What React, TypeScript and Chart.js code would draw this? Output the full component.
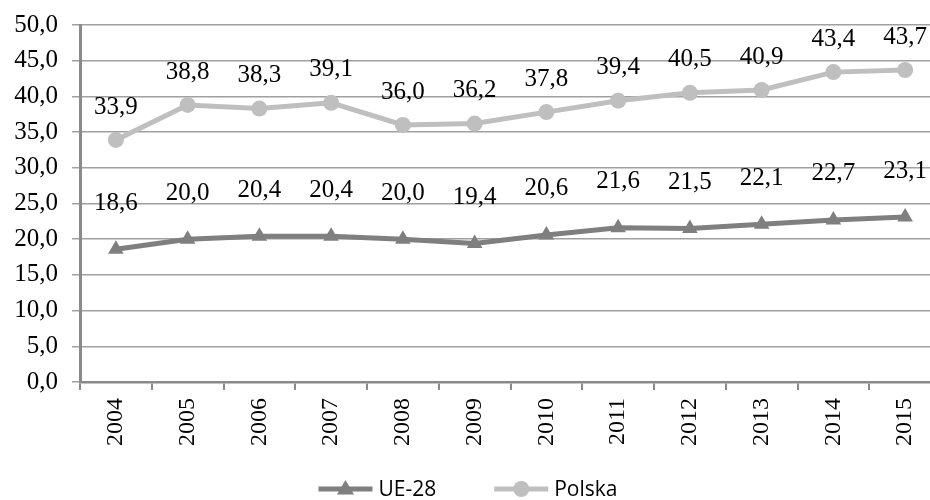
import React, { useEffect, useRef } from "react";
import { Chart, registerables } from "chart.js";

Chart.register(...registerables);

const years = ["2004", "2005", "2006", "2007", "2008", "2009", "2010", "2011", "2012", "2013", "2014", "2015"];
const ue28 = [18.6, 20.0, 20.4, 20.4, 20.0, 19.4, 20.6, 21.6, 21.5, 22.1, 22.7, 23.1];
const polska = [33.9, 38.8, 38.3, 39.1, 36.0, 36.2, 37.8, 39.4, 40.5, 40.9, 43.4, 43.7];
const seriesNames = ["UE-28", "Polska"];

const UE_COLOR = "#7f7f7f";
const PL_COLOR = "#bfbfbf";
const GRID = "#a0a0a0";
const AXIS = "#8a8a8a";
const SERIF = "'Liberation Serif', 'Times New Roman', serif";
const SANS = "'Open Sans', 'Noto Sans', sans-serif";

const fmt = (v: number) => v.toFixed(1).replace(".", ",");

const labelPlugin = {
  id: "valueLabels",
  afterDatasetsDraw(chart: any) {
    const ctx = chart.ctx;
    ctx.save();
    ctx.font = `25px ${SERIF}`;
    ctx.fillStyle = "#000";
    ctx.textAlign = "center";
    ctx.textBaseline = "middle";
    chart.data.datasets.forEach((ds: any, di: number) => {
      const meta = chart.getDatasetMeta(di);
      const lift = ds.labelLift || 35;
      meta.data.forEach((pt: any, i: number) => {
        ctx.fillText(fmt(ds.data[i]), pt.x, pt.y - lift);
      });
    });
    ctx.restore();
  },
};

const legendPlugin = {
  id: "customLegend",
  afterDraw(chart: any) {
    const ctx = chart.ctx;
    ctx.save();
    ctx.font = `21px ${SANS}`;
    const lineW = 54;
    const gapText = 6;
    const gapItem = 58;
    const items = chart.data.datasets.map((ds: any) => ({
      ds,
      tw: ctx.measureText(ds.label).width,
    }));
    const total = items.reduce((s: number, it: any) => s + lineW + gapText + it.tw, 0) + gapItem * (items.length - 1);
    let x = 468 - total / 2;
    const y = 489;
    items.forEach((it: any) => {
      const ds = it.ds;
      ctx.strokeStyle = ds.borderColor;
      ctx.lineWidth = ds.borderWidth;
      ctx.beginPath();
      ctx.moveTo(x, y);
      ctx.lineTo(x + lineW, y);
      ctx.stroke();
      ctx.fillStyle = ds.borderColor;
      const cx = x + lineW / 2;
      if (ds.pointStyle === "triangle") {
        const r = ds.pointRadius;
        ctx.beginPath();
        ctx.moveTo(cx, y - r);
        ctx.lineTo(cx + r * 0.95, y + r * 0.6);
        ctx.lineTo(cx - r * 0.95, y + r * 0.6);
        ctx.closePath();
        ctx.fill();
      } else {
        ctx.beginPath();
        ctx.arc(cx, y, ds.pointRadius, 0, Math.PI * 2);
        ctx.fill();
      }
      ctx.fillStyle = "#000";
      ctx.textAlign = "left";
      ctx.textBaseline = "middle";
      ctx.fillText(ds.label, x + lineW + gapText, y + 1);
      x += lineW + gapText + it.tw + gapItem;
    });
    ctx.restore();
  },
};

export default function App() {
  const ref = useRef<HTMLCanvasElement>(null);
  useEffect(() => {
    if (!ref.current) return;
    const chart = new Chart(ref.current, {
      type: "line",
      data: {
        labels: years,
        datasets: [
          {
            label: seriesNames[0],
            data: ue28,
            borderColor: UE_COLOR,
            backgroundColor: UE_COLOR,
            borderWidth: 5,
            pointStyle: "triangle",
            pointRadius: 9,
            pointBorderWidth: 0,
            tension: 0,
            labelLift: 46,
          } as any,
          {
            label: seriesNames[1],
            data: polska,
            borderColor: PL_COLOR,
            backgroundColor: PL_COLOR,
            borderWidth: 5,
            pointStyle: "circle",
            pointRadius: 8,
            pointBorderWidth: 0,
            tension: 0,
            labelLift: 33,
          } as any,
        ],
      },
      options: {
        animation: false,
        responsive: false,
        devicePixelRatio: 1,
        layout: { padding: { top: 25, bottom: 40, left: 0, right: 0 } },
        plugins: { legend: { display: false }, tooltip: { enabled: false } },
        scales: {
          x: {
            offset: true,
            grid: {
              offset: true,
              drawOnChartArea: false,
              drawTicks: true,
              tickLength: 8,
              color: AXIS,
              lineWidth: 2,
            },
            border: { color: AXIS, width: 2.5 },
            ticks: {
              color: "#000",
              font: { family: SERIF, size: 24 },
              minRotation: 90,
              maxRotation: 90,
              padding: 8,
            },
            afterFit(scale: any) {
              scale.height = 78;
            },
          },
          y: {
            min: 0,
            max: 50,
            ticks: {
              stepSize: 5,
              color: "#000",
              font: { family: SERIF, size: 25, lineHeight: 1 },
              padding: 14,
              callback: (v: any) => fmt(Number(v)),
            },
            grid: { color: GRID, lineWidth: 1.5, tickLength: 8 },
            border: { color: AXIS, width: 3 },
            afterFit(scale: any) {
              scale.width = 80;
              scale.paddingTop = 0;
              scale.paddingBottom = 0;
            },
          },
        },
      },
      plugins: [labelPlugin, legendPlugin],
    });
    return () => chart.destroy();
  }, []);
  return (
    <div style={{ position: "fixed", left: 0, top: 0, width: 930, height: 500, overflow: "hidden", background: "#fff" }}>
      <canvas ref={ref} width={950} height={500} style={{ display: "block" }} />
    </div>
  );
}
